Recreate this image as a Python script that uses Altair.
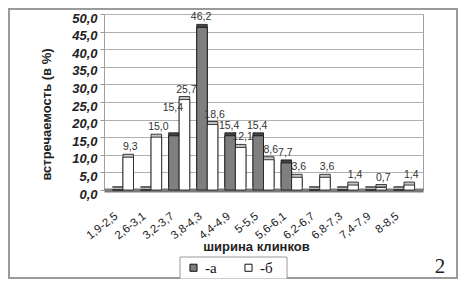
import altair as alt
import pandas as pd

categories = ["1,9-2,5", "2,6-3,1", "3,2-3,7", "3,8-4,3", "4,4-4,9", "5-5,5",
              "5,6-6,1", "6,2-6,7", "6,8-7,3", "7,4-7,9", "8-8,5"]
series = ["-а", "-б"]
values_a = [0, 0, 15.4, 46.2, 15.4, 15.4, 7.7, 0, 0, 0, 0]
values_b = [9.3, 15.0, 25.7, 18.6, 12.1, 8.6, 3.6, 3.6, 1.4, 0.7, 1.4]
y_ticks = [0, 5, 10, 15, 20, 25, 30, 35, 40, 45, 50]

rows = []
for i, (c, a, b) in enumerate(zip(categories, values_a, values_b)):
    # raise an "a" label when it would sit on top of the previous category's "b" label
    bump = 5 if i > 0 and 0 <= a - values_b[i - 1] < 3 else 0
    rows.append({"cat": c, "series": series[0], "v": a, "ly": a + bump})
    rows.append({"cat": c, "series": series[1], "v": b, "ly": b})
df = pd.DataFrame(rows)

W, H = 319, 176
FONT = "Liberation Sans"

x_enc = alt.X("cat:N", sort=categories,
              scale=alt.Scale(paddingInner=0.25, paddingOuter=0.3),
              axis=alt.Axis(title="ширина клинков", labelAngle=-38, labelFontSize=11.5,
                            labelFont=FONT, labelColor="#222", labelPadding=20,
                            labelOffset=-10, ticks=False, domainColor="#7a7a7a",
                            domainWidth=4, titleFont=FONT, titleFontSize=13,
                            titleFontWeight="bold", titleColor="#222",
                            titleX=152, titleY=50))
xo = alt.XOffset("series:N", sort=series, scale=alt.Scale(paddingInner=0, paddingOuter=0))
y_scale = alt.Scale(domain=[0, 50], nice=False)
y_axis = alt.Axis(title="встречаемость (в %)", values=y_ticks,
                  labelExpr="replace(format(datum.value, '.1f'), '.', ',')",
                  labelFont=FONT, labelFontSize=13, labelFontWeight="bold",
                  labelFontStyle="italic", labelColor="#222",
                  labelPadding=3, labelOffset=4, tickSize=4,
                  tickColor="#999", domain=False,
                  gridColor="#b0b0b0", gridWidth=1,
                  titleFont=FONT, titleFontSize=13, titleFontWeight="bold",
                  titleColor="#222", titleX=-51, titleY=100)
y_enc = alt.Y("v:Q", scale=y_scale, axis=y_axis)

base = alt.Chart(df)

depth = base.mark_bar(xOffset=3, yOffset=-3, stroke="#111", strokeWidth=0.8).encode(
    x=x_enc, xOffset=xo, y=y_enc,
    color=alt.Color("series:N", sort=series,
                    scale=alt.Scale(domain=series, range=["#454545", "#c4c4c4"]),
                    legend=None),
)

front = base.mark_bar(stroke="#111", strokeWidth=0.8).encode(
    x=x_enc, xOffset=xo, y=y_enc,
    color=alt.Color("series:N", sort=series,
                    scale=alt.Scale(domain=series, range=["#7f7f7f", "#ffffff"]),
                    legend=alt.Legend(title=None, orient="none", legendX=80, legendY=244,
                                      direction="horizontal", symbolType="square",
                                      symbolSize=50, symbolStrokeColor="#111",
                                      symbolStrokeWidth=1, labelFont="Liberation Serif",
                                      labelFontSize=15, labelColor="#111",
                                      columnPadding=24, padding=2, labelOffset=4)),
)

lbl_base = base.transform_filter("datum.v > 0").transform_calculate(
    lbl="replace(format(datum.v, '.1f'), '.', ',')"
).transform_calculate(v="datum.ly")
labels_a = lbl_base.transform_filter(alt.datum.series == series[0]).mark_text(
    dy=-10, dx=-1, font=FONT, fontSize=10.5, color="#333"
).encode(x=x_enc, xOffset=xo, y=y_enc, text="lbl:N")
labels_b = lbl_base.transform_filter(alt.datum.series == series[1]).mark_text(
    dy=-10, dx=2, font=FONT, fontSize=10.5, color="#333"
).encode(x=x_enc, xOffset=xo, y=y_enc, text="lbl:N")

one = pd.DataFrame({"k": [0]})
frame = alt.Chart(one).mark_rect(
    fill=None, stroke="#9a9a9a", strokeWidth=2
).encode(x=alt.value(-95), x2=alt.value(W + 34), y=alt.value(-5), y2=alt.value(H + 88))

legend_box = alt.Chart(one).mark_rect(
    fill="#ffffff", stroke="#9a9a9a", strokeWidth=1
).encode(x=alt.value(76), x2=alt.value(183), y=alt.value(243), y2=alt.value(265))

num = alt.Chart(pd.DataFrame({"t": ["2"]})).mark_text(
    font="Liberation Serif", fontSize=21, color="#222", align="center", baseline="alphabetic"
).encode(x=alt.value(336), y=alt.value(259), text="t:N")

chart = alt.layer(frame, legend_box, depth, front, labels_a, labels_b, num).resolve_scale(
    color="independent"
).properties(
    width=W, height=H,
    autosize=alt.AutoSizeParams(type="none"),
    padding={"left": 96, "top": 6, "right": 35, "bottom": 89},
).configure_view(stroke="#a0a0a0", strokeWidth=1)

chart.save("out.html", embed_options={"renderer": "svg", "actions": False})
